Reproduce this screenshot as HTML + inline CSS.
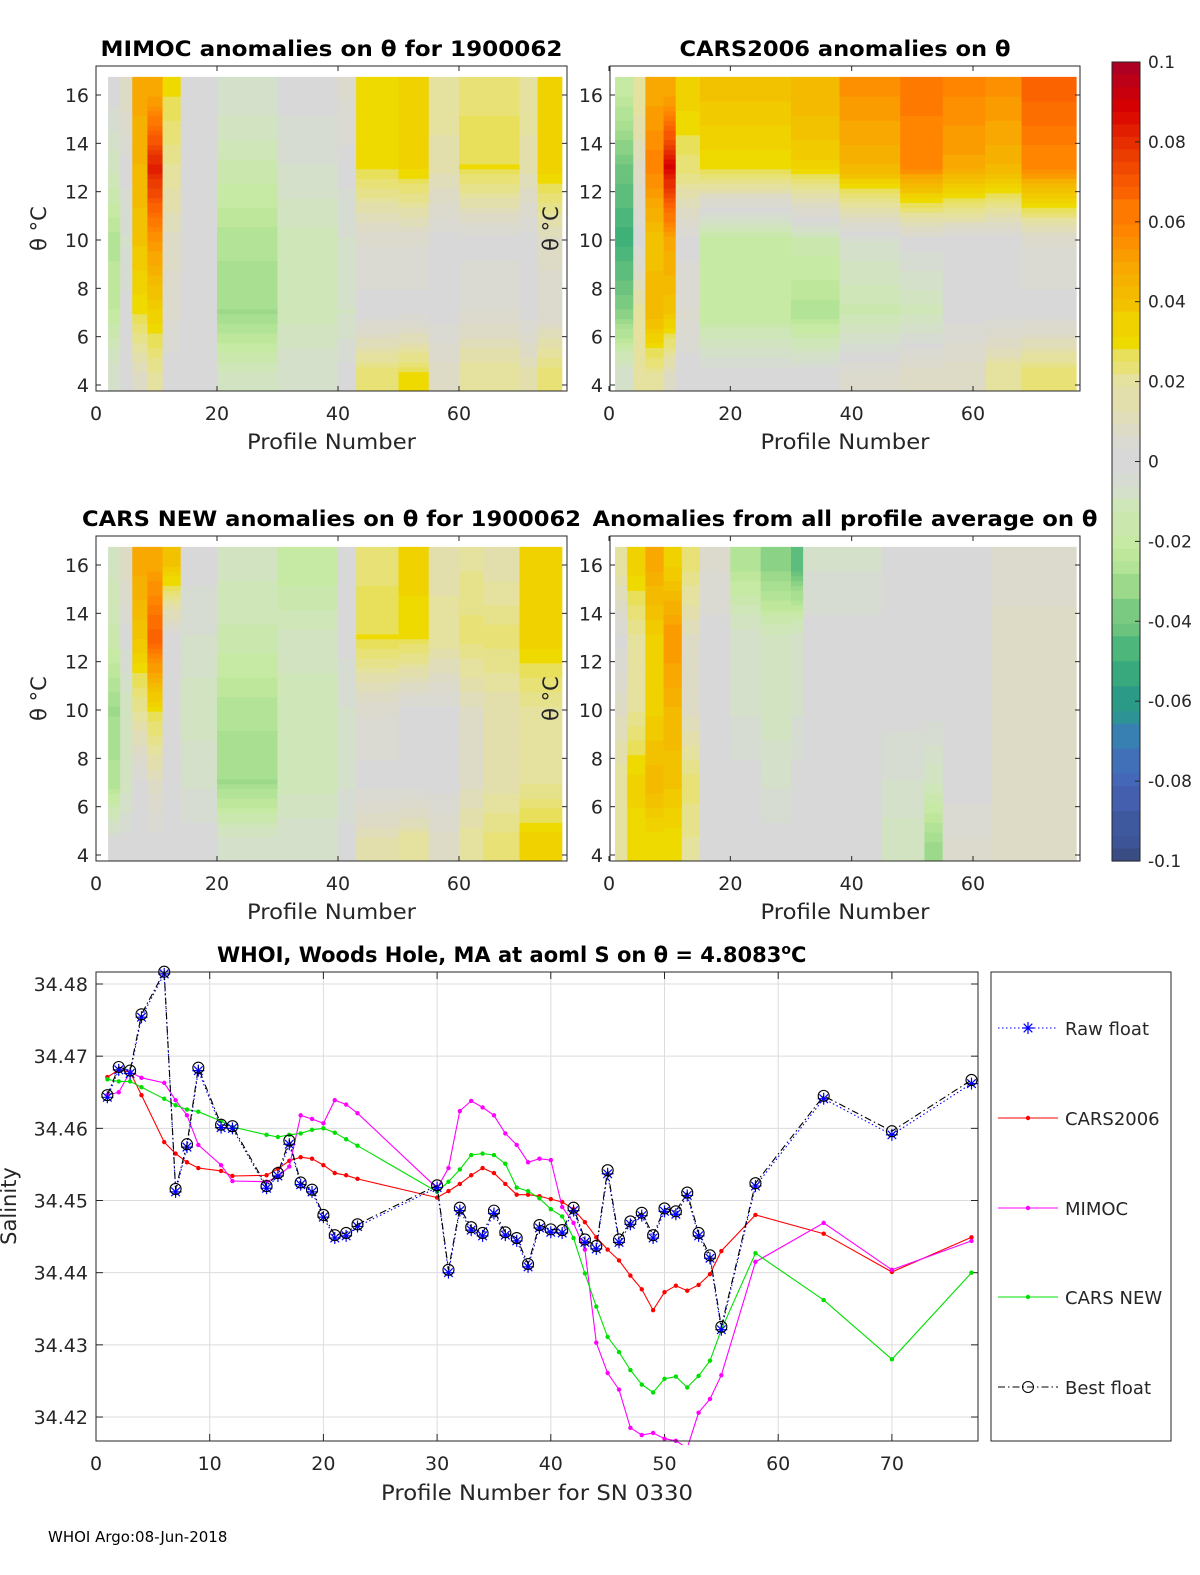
<!DOCTYPE html>
<html><head><meta charset="utf-8"><style>
html,body{margin:0;padding:0;background:#fff;width:1200px;height:1575px;overflow:hidden}
svg{display:block;font-family:"DejaVu Sans","Liberation Sans",sans-serif}
</style></head><body>
<svg id="fig" width="1200" height="1575" viewBox="0 0 1200 1575"></svg>
<script>
// ---------- heatmap data: column groups [startProfile, endProfile] and anomaly at theta levels ----------
const thetaLevels = [4.5, 7, 10, 13, 16];
const mimocGroups = [[2,4],[4,6],[6,8.5],[8.5,11],[11,14],[14,20],[20,30],[30,40],[40,43],[43,50],[50,55],[55,60],[60,70],[70,73],[73,77]];
const mimocVals = [[-0.005,-0.02,-0.025,-0.01,0],[0,0,-0.005,0,0.01],[0.01,0.03,0.04,0.045,0.05],[0.02,0.035,0.055,0.085,0.05],[0,0.005,0.01,0.02,0.03],[0,0,0,0,0],[-0.01,-0.03,-0.025,-0.015,-0.005],[-0.005,-0.012,-0.012,-0.005,0],[0,-0.008,-0.005,0,0.005],[0.025,0,0.005,0.03,0.03],[0.03,0,0.005,0.033,0.035],[0.01,0,0,0.015,0.02],[0.02,0.005,0,0.03,0.025],[0.015,0,0,0.015,0.02],[0.025,0.005,0.01,0.035,0.035]];
const cars06Groups = [[1,4],[4,6],[6,9],[9,11],[11,15],[15,30],[30,38],[38,48],[48,55],[55,62],[62,68],[68,77]];
const cars06Vals = [[-0.005,-0.035,-0.05,-0.04,-0.02],[0.02,0.02,0,0.01,0.02],[0.02,0.045,0.04,0.06,0.05],[0.01,0.04,0.05,0.09,0.05],[0,0.005,0,0.025,0.035],[0,-0.02,-0.02,0.03,0.04],[0,-0.025,-0.015,0.035,0.045],[0.005,-0.015,-0.005,0.045,0.055],[0.01,-0.012,0,0.058,0.062],[0.01,0,0,0.05,0.058],[0.02,0,0,0.045,0.055],[0.025,0,0.005,0.058,0.068]];
const carsNewGroups = [[2,4],[4,6],[6,8.5],[8.5,11],[11,14],[14,20],[20,30],[30,40],[40,43],[43,50],[50,55],[55,60],[60,64],[64,70],[70,77]];
const carsNewVals = [[0,-0.025,-0.03,-0.015,-0.01],[0,-0.01,-0.01,0,0.01],[0,0,0.02,0.04,0.05],[0,0.01,0.03,0.07,0.05],[0,0,0,0,0.04],[0,-0.005,-0.01,-0.005,0],[-0.005,-0.03,-0.025,-0.015,-0.01],[-0.005,-0.012,-0.012,-0.01,-0.02],[0,-0.005,-0.005,0,0],[0.015,0,0.005,0.03,0.025],[0.02,0,0,0.03,0.035],[0.01,0,0,0.02,0.015],[0.02,0.01,0.01,0.025,0.02],[0.025,0.015,0.015,0.025,0.015],[0.035,0.02,0.02,0.035,0.035]];
const avgGroups = [[1,3],[3,6],[6,9],[9,12],[12,15],[15,20],[20,25],[25,30],[30,32],[32,45],[45,52],[52,55],[55,63],[63,77]];
const avgVals = [[0.02,0.02,0.01,0,0.02],[0.03,0.035,0.02,0.02,0.035],[0.03,0.045,0.035,0.035,0.05],[0.03,0.04,0.045,0.055,0.035],[0.02,0.025,0.01,0.01,0.025],[0,0,0,0,0.005],[0,0,-0.005,-0.005,-0.025],[0,-0.005,-0.01,-0.01,-0.035],[0,0,-0.005,-0.005,-0.045],[0,0,0,0,-0.005],[-0.01,-0.005,0,0,0],[-0.03,-0.01,0,0,0],[0.005,0,0,0,0],[0.01,0.01,0.01,0.01,0.005]];
const thetaTicks = [4,6,8,10,12,14,16];
const profTicks = [0,20,40,60];

// ---------- salinity line chart data ----------
const profiles = [1,2,3,4,6,7,8,9,11,12,15,16,17,18,19,20,21,22,23,30,31,32,33,34,35,36,37,38,39,40,41,42,43,44,45,46,47,48,49,50,51,52,53,54,55,58,64,70,77];
const bestFloat = [34.4646,34.4685,34.468,34.4758,34.4817,34.4516,34.4578,34.4684,34.4605,34.4603,34.452,34.4538,34.4583,34.4525,34.4515,34.448,34.4452,34.4455,34.4467,34.4521,34.4404,34.449,34.4463,34.4455,34.4486,34.4456,34.4448,34.4412,34.4466,34.446,34.4459,34.449,34.4446,34.4437,34.4542,34.4446,34.4471,34.4483,34.4452,34.4489,34.4485,34.4511,34.4455,34.4424,34.4325,34.4524,34.4645,34.4596,34.4667];
const rawFloat = [34.4643,34.4681,34.4676,34.4754,34.4814,34.4512,34.4574,34.468,34.4601,34.46,34.4517,34.4534,34.4578,34.4522,34.4512,34.4477,34.4448,34.4451,34.4464,34.4518,34.44,34.4486,34.4459,34.4451,34.4482,34.4452,34.4444,34.4408,34.4462,34.4456,34.4455,34.4486,34.4442,34.4433,34.4537,34.4442,34.4467,34.4479,34.4448,34.4485,34.4481,34.4507,34.4451,34.442,34.4321,34.452,34.4641,34.4591,34.4662];
const cars2006 = [34.4671,34.4681,34.4678,34.4646,34.4581,34.4565,34.4553,34.4545,34.4541,34.4534,34.4535,34.4544,34.4555,34.456,34.4558,34.4549,34.4538,34.4535,34.453,34.4504,34.4513,34.4523,34.4535,34.4545,34.4538,34.4523,34.4508,34.4508,34.4506,34.4502,34.4498,34.4488,34.447,34.4449,34.4432,34.4417,34.4396,34.4377,34.4348,34.4373,34.4382,34.4375,34.4383,34.4398,34.443,34.448,34.4454,34.4401,34.4449];
const mimoc = [34.4646,34.465,34.4678,34.467,34.4663,34.4639,34.4618,34.4577,34.4549,34.4527,34.4526,34.4533,34.4547,34.4618,34.4613,34.4607,34.4639,34.4633,34.4621,34.4517,34.4545,34.4624,34.4638,34.4629,34.4618,34.4593,34.4577,34.4553,34.4558,34.4556,34.4491,34.4469,34.4432,34.4303,34.4261,34.4238,34.4185,34.4175,34.4178,34.417,34.4167,34.4157,34.4206,34.4225,34.4258,34.4415,34.4469,34.4404,34.4444];
const carsNew = [34.4668,34.4665,34.4665,34.4657,34.4641,34.4632,34.4626,34.4623,34.461,34.4602,34.4591,34.4588,34.4591,34.4593,34.4598,34.46,34.4594,34.4585,34.4576,34.4512,34.4526,34.4543,34.4563,34.4565,34.4563,34.4551,34.4518,34.4513,34.4503,34.4488,34.4478,34.4448,34.4399,34.4353,34.4311,34.429,34.4265,34.4245,34.4234,34.4253,34.4256,34.4241,34.4257,34.4278,34.4321,34.4427,34.4362,34.428,34.44];
const salTicks = [34.42,34.43,34.44,34.45,34.46,34.47,34.48];
const salTickLabels = ["34.42","34.43","34.44","34.45","34.46","34.47","34.48"];
const profTicksLine = [0,10,20,30,40,50,60,70];
const cbTicks = [0.1,0.08,0.06,0.04,0.02,0,-0.02,-0.04,-0.06,-0.08,-0.1];
const cbTickLabels = ["0.1","0.08","0.06","0.04","0.02","0","-0.02","-0.04","-0.06","-0.08","-0.1"];

const NS = "http://www.w3.org/2000/svg";
const svg = document.getElementById("fig");
function mk(tag, attrs, parent) {
  const e = document.createElementNS(NS, tag);
  for (const k in attrs) e.setAttribute(k, attrs[k]);
  (parent || svg).appendChild(e);
  return e;
}
function txt(s, x, y, size, opts, parent) {
  const o = Object.assign({x: x, y: y, "font-size": size, fill: "#262626"}, opts || {});
  const t = mk("text", o, parent);
  t.textContent = s;
  return t;
}

const cmStops = [[-0.1,[58,76,132]],[-0.09,[63,90,160]],[-0.08,[72,98,184]],[-0.07,[58,124,184]],[-0.06,[42,154,136]],[-0.05,[62,176,120]],[-0.04,[110,196,126]],[-0.03,[162,220,140]],[-0.02,[196,234,160]],[-0.01,[210,228,192]],[0,[216,216,216]],[0.01,[221,219,196]],[0.02,[230,226,154]],[0.028,[232,224,96]],[0.03,[238,221,0]],[0.04,[242,196,0]],[0.05,[248,168,0]],[0.06,[255,130,0]],[0.07,[250,95,0]],[0.08,[232,53,0]],[0.09,[216,0,0]],[0.1,[174,0,34]]];
function cmap(v) {
  v = Math.max(-0.1, Math.min(0.1, v));
  v = Math.round(v / 0.003125) * 0.003125;
  for (let i = 0; i < cmStops.length - 1; i++) {
    const a = cmStops[i], b = cmStops[i + 1];
    if (v <= b[0]) {
      const t = (v - a[0]) / (b[0] - a[0]);
      const c = a[1].map((q, j) => Math.round(q + (b[1][j] - q) * Math.max(0, Math.min(1, t))));
      return "rgb(" + c.join(",") + ")";
    }
  }
  return "rgb(174,0,34)";
}
function interpLevels(vals, th) {
  if (th <= thetaLevels[0]) return vals[0];
  if (th >= thetaLevels[thetaLevels.length - 1]) return vals[vals.length - 1];
  for (let i = 0; i < thetaLevels.length - 1; i++) {
    if (th <= thetaLevels[i + 1]) {
      const t = (th - thetaLevels[i]) / (thetaLevels[i + 1] - thetaLevels[i]);
      return vals[i] + (vals[i + 1] - vals[i]) * t;
    }
  }
}

function heatPanel(name, box, x0px, x60px, y4, y16, groups, vals, title, titleLen, ylabelX) {
  const g = mk("g", {});
  
  
  const xs = p => x0px + (x60px - x0px) * p / 60;
  const ys = t => y4 + (y16 - y4) * (t - 4) / 12;
  const clipId = name + "-clip";
  const cp = mk("clipPath", {id: clipId}, g);
  mk("rect", {x: box[0], y: box[1], width: box[2] - box[0], height: box[3] - box[1]}, cp);
  const cells = mk("g", {"clip-path": "url(#" + clipId + ")"}, g);
  groups.forEach((gr, gi) => {
    for (let th = 3.75; th < 16.65; th += 0.2) {
      const v = interpLevels(vals[gi], th + 0.1);
      const r = mk("rect", {x: xs(gr[0]), y: ys(th + 0.2), width: xs(gr[1]) - xs(gr[0]) + 0.5, height: ys(th) - ys(th + 0.2) + 0.5, fill: cmap(v)}, cells);
      
      
    }
  });
  const frame = mk("rect", {x: box[0], y: box[1], width: box[2] - box[0], height: box[3] - box[1], fill: "none", stroke: "#262626", "stroke-width": 1}, g);
  
  
  thetaTicks.forEach(t => {
    const y = ys(t);
    mk("line", {x1: box[0], x2: box[0] + 5, y1: y, y2: y, stroke: "#262626"}, g);
    mk("line", {x1: box[2], x2: box[2] - 5, y1: y, y2: y, stroke: "#262626"}, g);
    const l = txt(String(t), box[0] - 7, y + 7, 19, {"text-anchor": "end"}, g);
    
    
  });
  profTicks.forEach(p => {
    const x = xs(p);
    mk("line", {x1: x, x2: x, y1: box[3], y2: box[3] - 5, stroke: "#262626"}, g);
    mk("line", {x1: x, x2: x, y1: box[1], y2: box[1] + 5, stroke: "#262626"}, g);
    const l = txt(String(p), x, box[3] + 29, 19, {"text-anchor": "middle"}, g);
    
    
  });
  const xl = txt("Profile Number", (box[0] + box[2]) / 2, box[3] + 58, 21, {"text-anchor": "middle", textLength: 169, lengthAdjust: "spacingAndGlyphs"}, g);
  
  
  const tt = txt(title, (box[0] + box[2]) / 2, box[1] - 10, 21, {"text-anchor": "middle", "font-weight": "bold", fill: "#000", textLength: titleLen, lengthAdjust: "spacingAndGlyphs"}, g);
  
  
  const yl = txt("θ °C", 0, 0, 21, {"text-anchor": "middle", transform: "translate(" + ylabelX + "," + ((box[1] + box[3]) / 2) + ") rotate(-90)"}, svg);
  
  
}

heatPanel("mimoc-heatmap", [96, 66, 567, 391], 96, 459, 385, 95, mimocGroups, mimocVals, "MIMOC anomalies on θ  for 1900062", 462, 46);
heatPanel("cars2006-heatmap", [610, 66, 1080, 391], 609, 973, 385, 95, cars06Groups, cars06Vals, "CARS2006 anomalies on θ", 331, 558);
heatPanel("carsnew-heatmap", [96, 536, 567, 861], 96, 459, 855, 565, carsNewGroups, carsNewVals, "CARS NEW anomalies on θ for 1900062", 499, 46);
heatPanel("average-heatmap", [610, 536, 1080, 861], 609, 973, 855, 565, avgGroups, avgVals, "Anomalies from all profile average on θ", 505, 558);

(function () {
  const g = mk("g", {});
  
  
  const top = 62, bot = 861, x = 1112, w = 28, n = 64;
  const ycb = v => top + (0.1 - v) / 0.2 * (bot - top);
  for (let i = 0; i < n; i++) {
    const v = 0.1 - (i + 0.5) * 0.2 / n;
    mk("rect", {x: x, y: top + i * (bot - top) / n, width: w, height: (bot - top) / n + 0.6, fill: cmap(v)}, g);
  }
  mk("rect", {x: x, y: top, width: w, height: bot - top, fill: "none", stroke: "#262626"}, g);
  cbTicks.forEach((v, i) => {
    const y = ycb(v);
    mk("line", {x1: x + w - 5, x2: x + w, y1: y, y2: y, stroke: "#262626"}, g);
    const l = txt(cbTickLabels[i], 1148, y + 6, 17, {}, g);
    
    
  });
})();

(function () {
  const g = mk("g", {});
  
  
  const L = 96, R = 978, T = 972, B = 1441;
  const xs = p => 96 + p * 11.37;
  const ys = s => 984 + (34.48 - s) / 0.01 * 72.17;
  mk("rect", {x: L, y: T, width: R - L, height: B - T, fill: "#fff"}, g);
  profTicksLine.forEach(p => {
    const gl = mk("line", {x1: xs(p), x2: xs(p), y1: T, y2: B, stroke: "#dcdcdc"}, g);
    
    
    mk("line", {x1: xs(p), x2: xs(p), y1: B, y2: B - 7, stroke: "#262626"}, g);
    mk("line", {x1: xs(p), x2: xs(p), y1: T, y2: T + 7, stroke: "#262626"}, g);
    const l = txt(String(p), xs(p), B + 29, 19, {"text-anchor": "middle"}, g);
    
    
  });
  salTicks.forEach((s, i) => {
    const gl = mk("line", {x1: L, x2: R, y1: ys(s), y2: ys(s), stroke: "#dcdcdc"}, g);
    
    
    mk("line", {x1: L, x2: L + 7, y1: ys(s), y2: ys(s), stroke: "#262626"}, g);
    mk("line", {x1: R, x2: R - 7, y1: ys(s), y2: ys(s), stroke: "#262626"}, g);
    const l = txt(salTickLabels[i], L - 8, ys(s) + 7, 19, {"text-anchor": "end"}, g);
    
    
  });
  const cp = mk("clipPath", {id: "salclip"}, g);
  mk("rect", {x: L, y: T - 8, width: R - L + 8, height: B - T + 12}, cp);
  const plot = mk("g", {"clip-path": "url(#salclip)"}, g);
  function series(name, arr, color, dash, marker) {
    const pts = profiles.map((p, i) => xs(p).toFixed(1) + "," + ys(arr[i]).toFixed(1)).join(" ");
    const pl = mk("polyline", {points: pts, fill: "none", stroke: color, "stroke-width": 1.1, "stroke-dasharray": dash || "none"}, plot);
    
    
    profiles.forEach((p, i) => {
      const x = xs(p), y = ys(arr[i]);
      if (marker === "dot") {
        const c = mk("circle", {cx: x, cy: y, r: 2.2, fill: color}, plot);
        
        
      } else if (marker === "star") {
        const s = mk("path", {d: "M" + (x - 6) + " " + y + "h12M" + x + " " + (y - 6) + "v12M" + (x - 4.3) + " " + (y - 4.3) + "l8.6 8.6M" + (x - 4.3) + " " + (y + 4.3) + "l8.6 -8.6", stroke: color, "stroke-width": 1.2, fill: "none"}, plot);
        
        
      } else if (marker === "circle") {
        const c = mk("circle", {cx: x, cy: y, r: 5.5, fill: "none", stroke: color, "stroke-width": 1.1}, plot);
        
        
      }
    });
  }
  series("cars2006", cars2006, "#ff0000", null, "dot");
  series("mimoc", mimoc, "#ff00ff", null, "dot");
  series("cars-new", carsNew, "#00e000", null, "dot");
  series("raw-float", rawFloat, "#0000ff", "1.5,2.5", "star");
  series("best-float", bestFloat, "#000000", "7,3,1.5,3", "circle");
  mk("rect", {x: L, y: T, width: R - L, height: B - T, fill: "none", stroke: "#262626"}, g);
  const tt = txt("WHOI, Woods Hole, MA at aoml S on θ = 4.8083", 217, 962, 21, {"font-weight": "bold", fill: "#000"}, g);
  const sup = mk("tspan", {dy: -8, "font-size": 14}, tt); sup.textContent = "o";
  const tC = mk("tspan", {dy: 8}, tt); tC.textContent = "C";
  
  
  const xl = txt("Profile Number for SN 0330", 537, 1500, 21, {"text-anchor": "middle", textLength: 312, lengthAdjust: "spacingAndGlyphs"}, g);
  
  
  const yl = txt("Salinity", 0, 0, 21, {"text-anchor": "middle", transform: "translate(16,1206) rotate(-90)"}, g);
  
  

  const lg = mk("g", {});
  
  
  mk("rect", {x: 991, y: 972, width: 180, height: 469, fill: "#fff", stroke: "#262626"}, lg);
  const entries = [["Raw float", "#0000ff", "1.5,2.5", "star", 1028], ["CARS2006", "#ff0000", "none", "dot", 1118], ["MIMOC", "#ff00ff", "none", "dot", 1208], ["CARS NEW", "#00e000", "none", "dot", 1297], ["Best float", "#000000", "7,3,1.5,3", "circle", 1387]];
  entries.forEach(e => {
    const eg = mk("g", {}, lg);
    
    
    const y = e[4];
    mk("line", {x1: 998, x2: 1058, y1: y, y2: y, stroke: e[1], "stroke-width": 1.1, "stroke-dasharray": e[2]}, eg);
    const x = 1028;
    if (e[3] === "dot") mk("circle", {cx: x, cy: y, r: 2.2, fill: e[1]}, eg);
    else if (e[3] === "star") mk("path", {d: "M" + (x - 6) + " " + y + "h12M" + x + " " + (y - 6) + "v12M" + (x - 4.3) + " " + (y - 4.3) + "l8.6 8.6M" + (x - 4.3) + " " + (y + 4.3) + "l8.6 -8.6", stroke: e[1], "stroke-width": 1.2}, eg);
    else mk("circle", {cx: x, cy: y, r: 5.5, fill: "none", stroke: e[1]}, eg);
    txt(e[0], 1065, y + 7, 18, {}, eg);
  });
})();

const foot = txt("WHOI Argo:08-Jun-2018", 48, 1542, 15, {fill: "#000"});


</script>
</body></html>
